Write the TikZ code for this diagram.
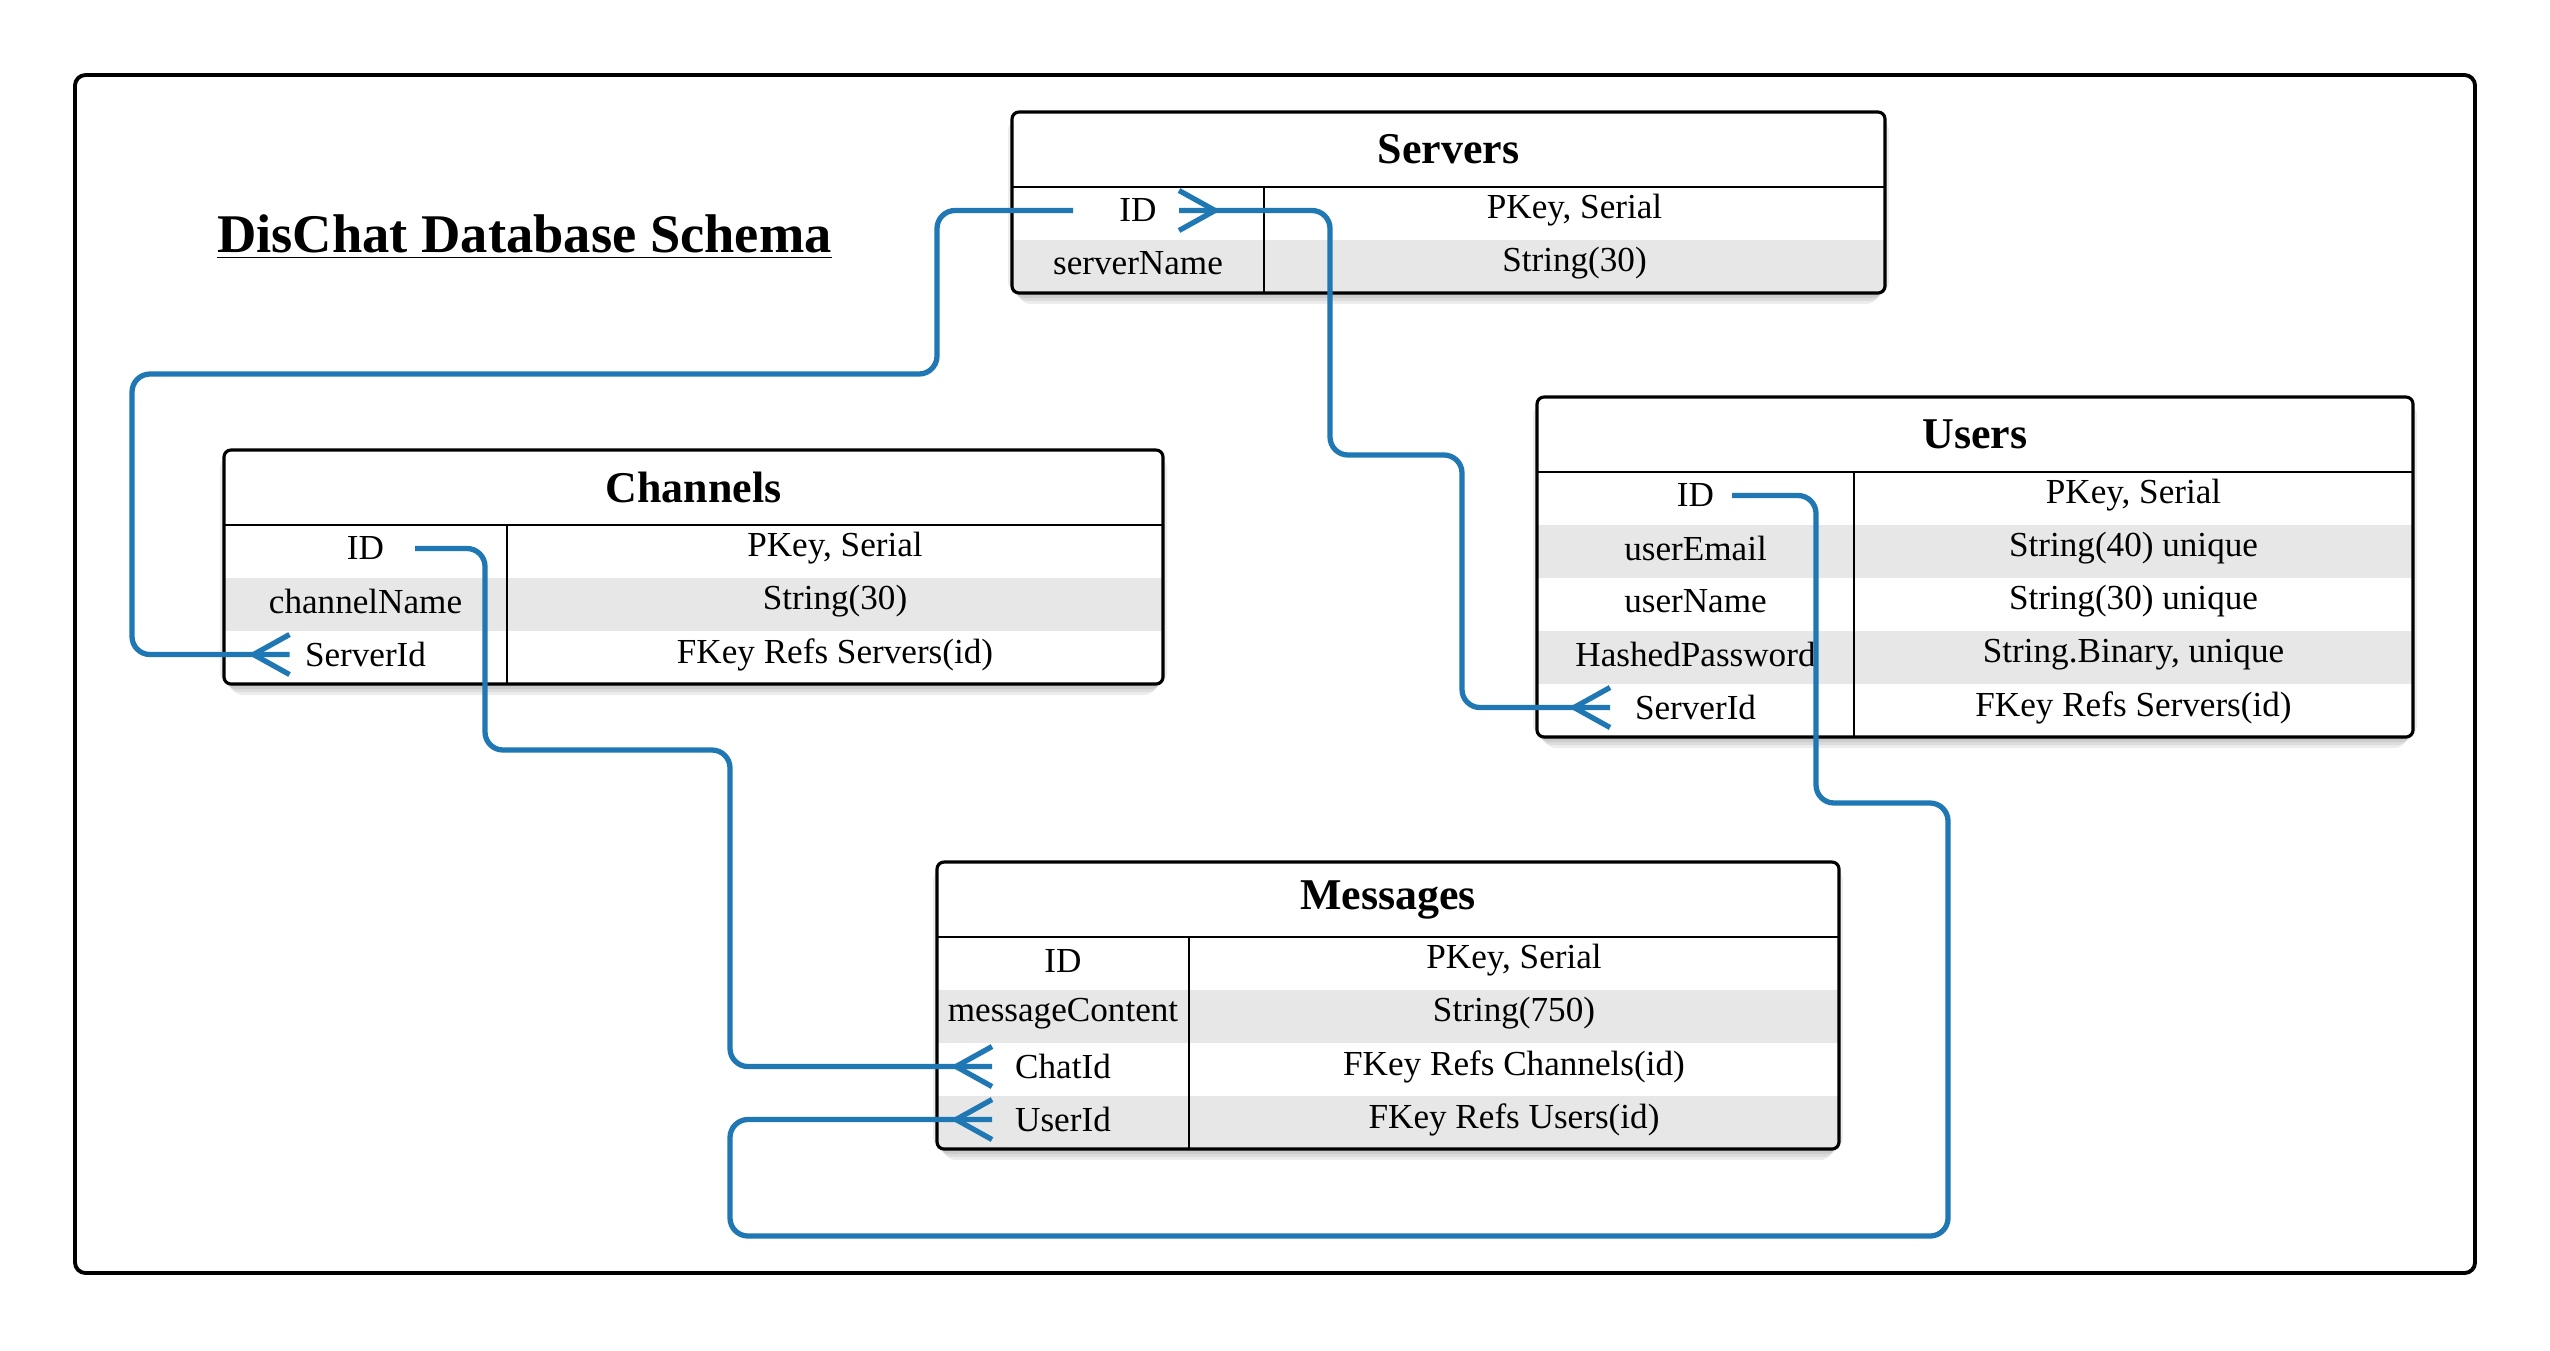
\documentclass[tikz,border=0pt]{standalone}
\usepackage{fontspec}
\setmainfont{Liberation Serif}
\usetikzlibrary{decorations.markings}
\definecolor{linkblue}{RGB}{31,120,180}
\definecolor{rowgray}{RGB}{231,231,231}
\newcommand{\fieldfont}{\fontsize{10}{12}\selectfont}

\tikzset{
  tblframe/.style={draw=black, line width=0.9pt, rounded corners=2pt},
  tblshadow/.style={fill=black, fill opacity=0.07, rounded corners=4pt},
  tblhead/.style={font=\fontsize{12.5}{15}\selectfont\bfseries, minimum height=0.75cm, inner sep=0pt},
  field/.style={font=\fieldfont, minimum height=0.53cm, inner sep=0pt},
  link/.style={draw=linkblue, line width=1.5pt, rounded corners=0.18cm},
  many end/.style={postaction={decorate, decoration={markings,
    mark=at position 1 with {\draw[linkblue, line width=1.5pt] (-0.36,0) -- (0,0.2) (-0.36,0) -- (0,-0.2);}}}},
  many start/.style={postaction={decorate, decoration={markings,
    mark=at position 0 with {\draw[linkblue, line width=1.5pt] (0.36,0) -- (0,0.2) (0.36,0) -- (0,-0.2);}}}}
}

% #1 name, #2 left, #3 top, #4 key column width, #5 table width, #6 rows, #7 title, #8 fields
\newcommand{\dbtable}[8]{%
  \begin{scope}[shift={(#2,#3)}]
    % soft shadow
    \foreach \s in {0.02,0.05,0.08,0.11}
      \fill[tblshadow] (\s-0.06,-0.03-\s) rectangle (#5+0.06-\s,-0.75-0.53*#6-\s);
    \fill[white, rounded corners=2pt] (0,0) rectangle (#5,-0.75-0.53*#6);
    \node[tblhead, minimum width=#5cm] (#1) at (#5/2,-0.375) {#7};
    \foreach \fkey/\ftype [count=\i] in {#8} {
      \ifodd\i\else
        \fill[rowgray] (0,-0.22-0.53*\i) rectangle (#5,-0.75-0.53*\i);
      \fi
      \node[field, minimum width=#4cm] (#1-k\i) at (#4/2,-0.455-0.53*\i) {\fkey};
      \node[field, minimum width=#5cm-#4cm] (#1-t\i) at ({(#4+#5)/2},-0.455-0.53*\i) {\ftype};
    }
    \draw[line width=0.6pt] (0,-0.75) -- (#5,-0.75);
    \draw[line width=0.6pt] (#4,-0.75) -- (#4,-0.75-0.53*#6);
    \draw[tblframe] (0,0) rectangle (#5,-0.75-0.53*#6);
  \end{scope}}

\begin{document}
\begin{tikzpicture}
  \useasboundingbox (0,0) rectangle (25.5,-13.5);
  \draw[line width=1.1pt, rounded corners=3pt] (0.75,-0.75) rectangle (24.75,-12.73);

  \node[anchor=base, font=\fontsize{15.5}{18}\selectfont\bfseries] (title) at (5.245,-2.52)
    {\underline{DisChat Database Schema}};

  % tables
  \dbtable{srv}{10.12}{-1.12}{2.52}{8.73}{2}{Servers}
    {ID/{PKey, Serial}, serverName/String(30)}
  \dbtable{chn}{2.24}{-4.50}{2.83}{9.39}{3}{Channels}
    {ID/{PKey, Serial}, channelName/String(30), ServerId/FKey Refs Servers(id)}
  \dbtable{usr}{15.37}{-3.97}{3.17}{8.76}{5}{Users}
    {ID/{PKey, Serial}, userEmail/String(40) unique, userName/String(30) unique,
     HashedPassword/{String.Binary, unique}, ServerId/FKey Refs Servers(id)}
  \dbtable{msg}{9.37}{-8.62}{2.52}{9.02}{4}{Messages}
    {ID/{PKey, Serial}, messageContent/String(750), ChatId/FKey Refs Channels(id),
     UserId/FKey Refs Users(id)}

  % relations
  \draw[link, many end] ([xshift=-6.5mm]srv-k1.center) -| (9.37,-3.74) -- (1.32,-3.74)
    |- ([xshift=-7.6mm]chn-k3.center);
  \draw[link, many start, many end] ([xshift=4.1mm]srv-k1.center) -| (13.30,-4.55) -- (14.62,-4.55)
    |- ([xshift=-8.55mm]usr-k5.center);
  \draw[link, many end] ([xshift=4.95mm]chn-k1.center) -| (4.85,-7.50) -- (7.30,-7.50)
    |- ([xshift=-7.1mm]msg-k3.center);
  \draw[link, many end] ([xshift=3.65mm]usr-k1.center) -| (18.16,-8.03) -- (19.48,-8.03)
    -- (19.48,-12.36) -- (7.30,-12.36) |- ([xshift=-7.1mm]msg-k4.center);
\end{tikzpicture}
\end{document}
